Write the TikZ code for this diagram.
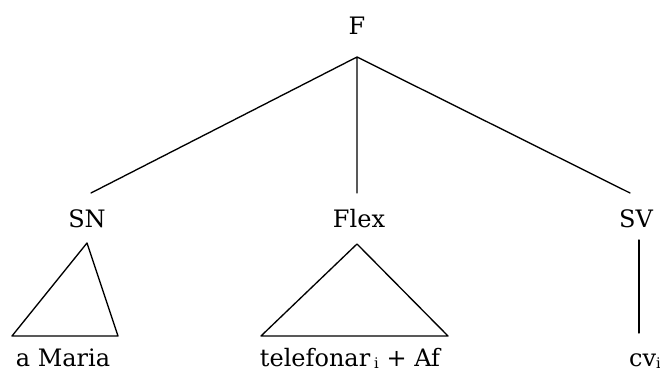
\documentclass[tikz,border=0pt]{standalone}
\usepackage{fontspec}
\setmainfont{DejaVu Serif}
\usepackage{tikz}
\begin{document}
\begin{tikzpicture}[x=0.75pt,y=-0.75pt,font=\fontsize{18}{21}\selectfont,line join = round, line cap = round, line width=1pt,
	cat/.style={inner sep=0pt,anchor=base}]
			\useasboundingbox (0,0) rectangle (660,373);
			%categorias
			\node[cat] (F) at (357,35) {F};
			\node[cat] (SN) at (87,228) {SN};
			\node[cat] (Flex) at (359,228) {Flex};
			\node[cat] (SV) at (636,228) {SV};
			\coordinate (Fb) at (357,57);
			\coordinate (SNt) at (91,193);
			\coordinate (Flext) at (357,193);
			\coordinate (SVt) at (630,193);
			\draw (Fb)--(SNt) (Fb)--(Flext) (Fb)--(SVt);
			%triangulos
			\coordinate (a1) at (87,243); \coordinate (a2) at (12,336); \coordinate (a3) at (118,336);
			\coordinate (b1) at (357,244); \coordinate (b2) at (261,336); \coordinate (b3) at (448,336);
			\draw (a1)--(a2)--(a3)--cycle;
			\draw (b1)--(b2)--(b3)--cycle;
			\coordinate (c1) at (639,240); \coordinate (c2) at (639,333);
			\draw (c1)--(c2);
			\node[cat] (maria) at (63,367) {a Maria};
			\node[cat] (tel) at (350,367) {telefonar\,\raisebox{-0.15ex}{\fontsize{11}{13}\selectfont i} + Af};
			\node[cat] (cv) at (645,367) {cv\raisebox{-0.15ex}{\fontsize{11}{13}\selectfont i}};
	\end{tikzpicture}
\end{document}
